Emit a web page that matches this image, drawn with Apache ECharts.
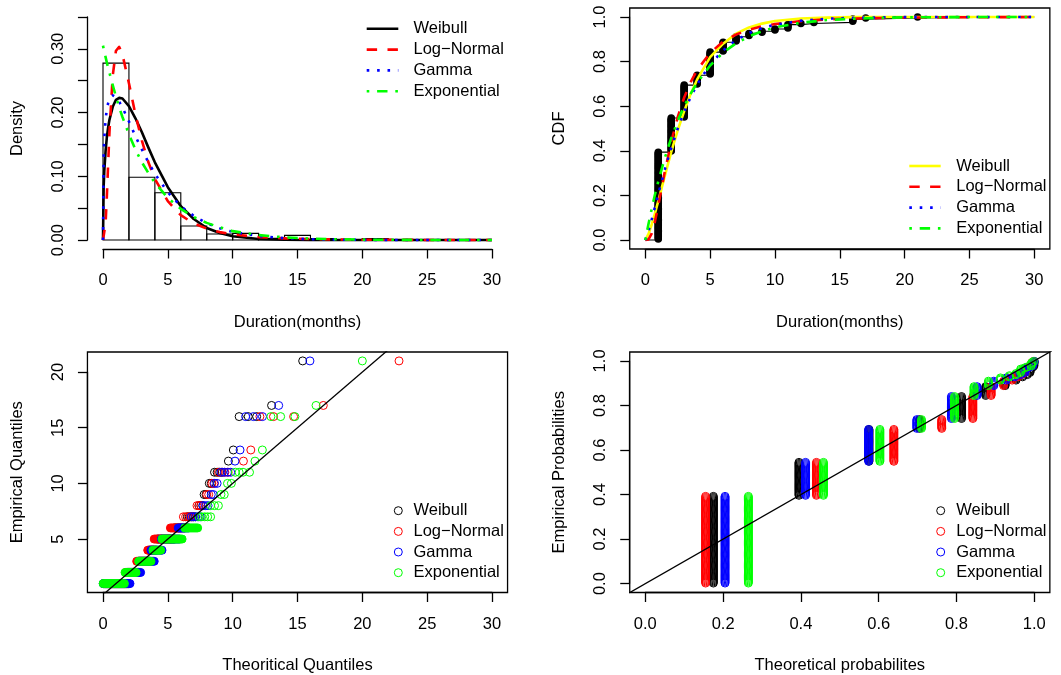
<!DOCTYPE html>
<html>
<head>
<meta charset="utf-8">
<script src="https://cdn.jsdelivr.net/npm/echarts@6/dist/echarts.min.js"></script>
<style>
html,body{margin:0;padding:0;background:#ffffff;}
#chart{width:1061px;height:675px;}
</style>
</head>
<body>
<div id="chart"></div>
<script>
// ---------------- DATA ----------------
// Panel 1: histogram of durations (density scale)
const histBreaks  = [0, 2, 4, 6, 8, 10, 12, 14, 16, 18, 20, 22];
const histDensity = [0.2775, 0.0985, 0.0743, 0.0220, 0.0095, 0.0105, 0.0026, 0.0073, 0.0025, 0, 0.0025];

// Panel 1: fitted density curves
const densX         = [0, 0.05, 0.1, 0.2, 0.3, 0.4, 0.5, 0.75, 1, 1.25, 1.5, 2, 2.5, 3, 3.5, 4, 5, 6, 7, 8, 9, 10, 12, 14, 16, 18, 20, 25, 30];
const densWeibull   = [0, 0.084, 0.109, 0.140, 0.162, 0.177, 0.189, 0.209, 0.220, 0.223, 0.222, 0.210, 0.191, 0.169, 0.145, 0.122, 0.083, 0.053, 0.033, 0.019, 0.011, 0.006, 0.0017, 0.0004, 0.0001, 0, 0, 0, 0];
const densLogNormal = [0, 0.0001, 0.0026, 0.026, 0.070, 0.121, 0.170, 0.258, 0.297, 0.303, 0.291, 0.246, 0.197, 0.156, 0.122, 0.096, 0.061, 0.039, 0.026, 0.018, 0.0125, 0.0089, 0.0047, 0.0027, 0.0016, 0.0010, 0.0006, 0.0002, 0.0001];
const densGamma     = [0, 0.133, 0.160, 0.189, 0.206, 0.215, 0.222, 0.227, 0.224, 0.217, 0.208, 0.186, 0.163, 0.142, 0.122, 0.104, 0.075, 0.053, 0.038, 0.0265, 0.0185, 0.0129, 0.0062, 0.0030, 0.0014, 0.0007, 0.0003, 0.00005, 0];
const densExp       = [0.305, 0.300, 0.296, 0.287, 0.278, 0.270, 0.262, 0.243, 0.225, 0.208, 0.193, 0.166, 0.142, 0.122, 0.105, 0.090, 0.066, 0.049, 0.036, 0.027, 0.020, 0.014, 0.0078, 0.0043, 0.0023, 0.0013, 0.0007, 0.00015, 0.00003];

// Panel 2: fitted CDF curves
const cdfX         = [0, 0.25, 0.5, 0.75, 1, 1.5, 2, 2.5, 3, 3.5, 4, 5, 6, 7, 8, 9, 10, 12, 14, 16, 18, 20, 25, 30];
const cdfWeibull   = [0, 0.028, 0.071, 0.121, 0.175, 0.286, 0.395, 0.492, 0.578, 0.655, 0.720, 0.820, 0.880, 0.925, 0.953, 0.970, 0.982, 0.993, 0.997, 0.999, 0.9996, 1, 1, 1];
const cdfLogNormal = [0, 0.003, 0.030, 0.085, 0.155, 0.305, 0.440, 0.551, 0.639, 0.708, 0.762, 0.839, 0.889, 0.921, 0.943, 0.958, 0.968, 0.981, 0.989, 0.993, 0.995, 0.997, 0.9986, 0.9994];
const cdfGamma     = [0, 0.040, 0.093, 0.149, 0.206, 0.314, 0.412, 0.500, 0.576, 0.641, 0.698, 0.787, 0.850, 0.896, 0.928, 0.950, 0.965, 0.983, 0.992, 0.996, 0.998, 0.9992, 0.9999, 1];
const cdfExp       = [0, 0.073, 0.141, 0.205, 0.263, 0.367, 0.457, 0.534, 0.600, 0.656, 0.705, 0.782, 0.840, 0.882, 0.913, 0.936, 0.953, 0.974, 0.986, 0.992, 0.996, 0.998, 0.9995, 0.9999];

// Observed durations (months) and how many observations have each value
const durValues = [1, 2, 3, 4, 5, 6, 7, 8, 9, 10, 11, 12, 13, 16, 17, 21];
const durCounts = [80, 31, 30, 9, 21, 9, 5, 3, 2, 2, 4, 1, 1, 3, 1, 1];

// Panel 4: theoretical probability at each observed value
const ppWeibull   = [0.175, 0.395, 0.575, 0.705, 0.813, 0.875, 0.925, 0.953, 0.970, 0.982, 0.989, 0.993, 0.996, 0.999, 0.9995, 1.0];
const ppLogNormal = [0.155, 0.440, 0.639, 0.762, 0.842, 0.889, 0.921, 0.943, 0.958, 0.968, 0.976, 0.981, 0.986, 0.993, 0.994, 0.998];
const ppGamma     = [0.205, 0.412, 0.574, 0.698, 0.787, 0.853, 0.896, 0.928, 0.950, 0.965, 0.976, 0.983, 0.988, 0.996, 0.9975, 0.9997];
const ppExp       = [0.265, 0.458, 0.603, 0.710, 0.795, 0.845, 0.882, 0.913, 0.936, 0.953, 0.965, 0.974, 0.981, 0.992, 0.994, 0.998];

// Panel 3: dense tied runs (empirical level, theoretical quantile from, to)
const qqBandLevels    = [1, 2, 3, 4, 5, 6];
const qqBandWeibull   = [[0.05, 1.98], [1.85, 2.75], [2.7, 3.6], [3.55, 4.1], [4.2, 5.5], [5.5, 6.3]];
const qqBandLogNormal = [[0.2, 1.85], [1.75, 2.4], [2.6, 3.3], [3.45, 3.9], [3.95, 5.2], [5.2, 6.0]];
const qqBandGamma     = [[0.02, 2.08], [1.9, 2.9], [2.8, 3.95], [3.7, 4.55], [4.5, 5.9], [5.8, 6.6]];
const qqBandExp       = [[0.01, 1.65], [1.7, 2.55], [2.75, 3.7], [3.85, 4.45], [4.55, 6.1], [6.3, 7.3]];

// Panel 3: individual points (empirical level -> theoretical quantiles)
const qqLevels    = [7, 8, 9, 10, 11, 12, 13, 16, 17, 21];
const qqWeibull   = [[6.5, 6.65, 6.8, 6.95, 7.1], [7.4, 7.55, 7.7], [7.8, 7.95], [8.2, 8.35], [8.6, 8.8, 9.0, 9.2], [9.67], [10.05], [10.5, 11.2, 11.85], [13.0], [15.4]];
const qqLogNormal = [[6.2, 6.37, 6.55, 6.72, 6.9], [7.25, 7.4, 7.55], [8.0, 8.15], [8.4, 8.55], [8.9, 9.15, 9.4, 9.65], [10.83], [11.4], [12.1, 13.15, 14.7], [16.99], [22.83]];
const qqGamma     = [[6.8, 6.97, 7.15, 7.32, 7.5], [7.7, 7.9, 8.1], [8.35, 8.5], [8.6, 8.8], [9.1, 9.35, 9.6, 9.85], [10.18], [10.57], [11.0, 11.6, 12.3], [13.55], [15.96]];
const qqExp       = [[7.4, 7.62, 7.85, 8.07, 8.3], [8.3, 8.6, 8.9], [9.1, 9.35], [9.6, 9.9], [10.2, 10.5, 10.8, 11.3], [11.72], [12.29], [12.95, 13.7, 14.8], [16.43], [20.0]];

// Reference line y = x (ends far outside, clipped by the plot region)
const refLineEnds = [-5, 40];

const legendNames = ['Weibull', 'Log\u2212Normal', 'Gamma', 'Exponential'];

// ---------------- STYLE ----------------
const FONT = '"Liberation Sans", Arial, Helvetica, sans-serif';
const FS = 16.5;
const COL = { black: '#000000', red: '#ff0000', blue: '#0000ff', green: '#00ff00', yellow: '#ffff00' };
const LW = 2.6;
const DASH = { solid: 'solid', dashed: [10.4, 10.4], dotted: [2.6, 7.8], dotdash: [2.6, 7.8, 10.4, 7.8] };
const AXIS_LW = 1.3;

// ---------------- LAYOUT ----------------
const grids = [
  { left: 87.44, top: 8, width: 420.12, height: 241 },                 // 0 panel1 plot region
  { left: 103, top: 16.93, width: 389, height: 223.15 },                // 1 panel1 axes
  { left: 629.74, top: 8, width: 420.12, height: 241, box: true },      // 2 panel2 plot region
  { left: 645.3, top: 16.93, width: 389, height: 223.15 },              // 3 panel2 axes
  { left: 87.44, top: 352, width: 420.12, height: 240.5, box: true },   // 4 panel3 plot region
  { left: 103, top: 372.04, width: 389, height: 167.02 },               // 5 panel3 axes
  { left: 629.74, top: 352, width: 420.12, height: 240.5, box: true },  // 6 panel4 plot region
  { left: 645.3, top: 360.91, width: 389, height: 222.68 }              // 7 panel4 axes
].map(g => ({
  left: g.left, top: g.top, width: g.width, height: g.height,
  containLabel: false, outerBoundsMode: 'none',
  show: !!g.box, borderColor: '#000', borderWidth: g.box ? AXIS_LW : 0, backgroundColor: 'transparent'
}));

const txt = { color: '#000', fontFamily: FONT, fontSize: FS };

function plotAxis(dim, gi, min, max, name, gap) {
  return {
    type: 'value', gridIndex: gi, min, max, show: true,
    axisLine: { show: false }, axisTick: { show: false }, axisLabel: { show: false }, splitLine: { show: false },
    name, nameLocation: 'middle', nameGap: gap, nameMoveOverlap: false,
    nameTextStyle: Object.assign({ verticalAlign: 'middle', align: 'center' }, txt)
  };
}
function tickAxis(dim, gi, min, max, interval, offset, fmt) {
  const isY = dim === 'y';
  return {
    type: 'value', gridIndex: gi, min, max, interval, offset,
    position: isY ? 'left' : 'bottom',
    axisLine: { show: true, onZero: false, lineStyle: { color: '#000', width: AXIS_LW } },
    axisTick: { show: true, inside: false, length: 9.5, lineStyle: { color: '#000', width: AXIS_LW } },
    splitLine: { show: false },
    axisLabel: Object.assign({
      show: true, hideOverlap: false, formatter: fmt,
      margin: isY ? 28.8 : 31.5,
      rotate: isY ? 90 : 0,
      align: 'center', verticalAlign: 'middle'
    }, txt)
  };
}
const f0 = v => String(Math.round(v));
const f1 = v => v.toFixed(1);
const fDens = v => (Math.round(v * 100) % 10 === 0 ? v.toFixed(2) : '');

const xAxes = [
  plotAxis('x', 0, -1.2, 31.2, 'Duration(months)', 73),
  tickAxis('x', 1, 0, 30, 5, 8.92, f0),
  plotAxis('x', 2, -1.2, 31.2, 'Duration(months)', 73),
  tickAxis('x', 3, 0, 30, 5, 8.92, f0),
  plotAxis('x', 4, -1.2, 31.2, 'Theoritical Quantiles', 72.5),
  tickAxis('x', 5, 0, 30, 5, 53.46, f0),
  plotAxis('x', 6, -0.04, 1.04, 'Theoretical probabilites', 72.5),
  tickAxis('x', 7, 0, 1, 0.2, 8.91, f1)
];
const yAxes = [
  plotAxis('y', 0, -0.014, 0.364, 'Density', 70),
  tickAxis('y', 1, 0, 0.35, 0.05, 15.56, fDens),
  plotAxis('y', 2, -0.04, 1.04, 'CDF', 70),
  tickAxis('y', 3, 0, 1, 0.2, 15.56, f1),
  plotAxis('y', 4, 0.2, 21.8, 'Empirical Quantiles', 70),
  tickAxis('y', 5, 5, 20, 5, 15.56, f0),
  plotAxis('y', 6, -0.04, 1.04, 'Empirical Probabilities', 70),
  tickAxis('y', 7, 0, 1, 0.2, 15.56, f1)
];

// ---------------- SERIES ----------------
const zip = (xs, ys) => xs.map((x, i) => [x, ys[i]]);
const base = { silent: true, animation: false };

function curve(name, xs, ys, color, dash, ai) {
  return Object.assign({
    type: 'line', name, xAxisIndex: ai, yAxisIndex: ai, data: zip(xs, ys),
    symbol: 'none', showSymbol: false, clip: true,
    lineStyle: { color, width: LW, type: dash, cap: 'butt', join: 'round' }
  }, base);
}
function hollow(name, data, color, ai) {
  return Object.assign({
    type: 'scatter', name, xAxisIndex: ai, yAxisIndex: ai, data,
    symbol: 'circle', symbolSize: 8,
    itemStyle: { color: 'rgba(0,0,0,0)', borderColor: color, borderWidth: 1, opacity: 1 }
  }, base);
}

const nObs = durCounts.reduce((a, b) => a + b, 0);

// ECDF points and steps
const ecdfPoints = [];
const ecdfSteps = [[0, 0]];
(function () {
  let c = 0;
  durValues.forEach((v, k) => {
    for (let j = 0; j < durCounts[k]; j++) { c++; ecdfPoints.push([v, c / nObs]); }
    ecdfSteps.push([v, c / nObs]);
  });
  ecdfSteps.push([30, c / nObs]);
})();

function ppData(px) {
  const out = []; let c = 0;
  durValues.forEach((v, k) => {
    for (let j = 0; j < durCounts[k]; j++) { c++; out.push([px[k], (c - 0.5) / nObs]); }
  });
  return out;
}
function qqPoints(xsByLevel) {
  const out = [];
  qqLevels.forEach((lv, j) => xsByLevel[j].forEach(x => out.push([x, lv])));
  return out;
}
function qqBands(name, bands, color) {
  return Object.assign({
    type: 'custom', name, xAxisIndex: 4, yAxisIndex: 4,
    data: qqBandLevels.map((lv, j) => [lv, bands[j][0], bands[j][1]]),
    encode: { x: [1, 2], y: 0 },
    renderItem: function (params, api) {
      const y = api.value(0), x0 = api.value(1), x1 = api.value(2);
      const a = api.coord([x0, y]), b = api.coord([x1, y]);
      const R = 4;
      return {
        type: 'rect',
        shape: { x: a[0] - R, y: a[1] - R, width: (b[0] - a[0]) + 2 * R, height: 2 * R, r: R },
        style: { fill: color, stroke: color, lineWidth: 1 }
      };
    }
  }, base);
}
function refLine(ai) {
  return Object.assign({
    type: 'line', xAxisIndex: ai, yAxisIndex: ai, data: refLineEnds.map(v => [v, v]),
    symbol: 'none', clip: true, lineStyle: { color: '#000', width: 1.3 }, z: 5
  }, base);
}

const series = [
  // Panel 1
  Object.assign({
    type: 'custom', name: 'hist', xAxisIndex: 0, yAxisIndex: 0,
    data: histDensity.map((d, i) => [histBreaks[i], histBreaks[i + 1], d]),
    encode: { x: [0, 1], y: 2 },
    renderItem: function (params, api) {
      const p0 = api.coord([api.value(0), 0]);
      const p1 = api.coord([api.value(1), api.value(2)]);
      return {
        type: 'rect',
        shape: { x: p0[0], y: p1[1], width: p1[0] - p0[0], height: p0[1] - p1[1] },
        style: { fill: 'none', stroke: '#000', lineWidth: 1.1 }
      };
    }
  }, base),
  curve('Weibull', densX, densWeibull, COL.black, DASH.solid, 0),
  curve('Log-Normal', densX, densLogNormal, COL.red, DASH.dashed, 0),
  curve('Gamma', densX, densGamma, COL.blue, DASH.dotted, 0),
  curve('Exponential', densX, densExp, COL.green, DASH.dotdash, 0),

  // Panel 2
  Object.assign({
    type: 'line', name: 'ecdf', xAxisIndex: 2, yAxisIndex: 2, data: ecdfSteps, step: 'end',
    symbol: 'none', lineStyle: { color: '#000', width: 1.1 }
  }, base),
  Object.assign({
    type: 'scatter', name: 'ecdf points', xAxisIndex: 2, yAxisIndex: 2, data: ecdfPoints,
    symbol: 'circle', symbolSize: 7.5, itemStyle: { color: '#000', opacity: 1 }
  }, base),
  curve('Weibull', cdfX, cdfWeibull, COL.yellow, DASH.solid, 2),
  curve('Log-Normal', cdfX, cdfLogNormal, COL.red, DASH.dashed, 2),
  curve('Gamma', cdfX, cdfGamma, COL.blue, DASH.dotted, 2),
  curve('Exponential', cdfX, cdfExp, COL.green, DASH.dotdash, 2),

  // Panel 3
  qqBands('Weibull', qqBandWeibull, COL.black),
  hollow('Weibull', qqPoints(qqWeibull), COL.black, 4),
  qqBands('Log-Normal', qqBandLogNormal, COL.red),
  hollow('Log-Normal', qqPoints(qqLogNormal), COL.red, 4),
  qqBands('Gamma', qqBandGamma, COL.blue),
  hollow('Gamma', qqPoints(qqGamma), COL.blue, 4),
  qqBands('Exponential', qqBandExp, COL.green),
  hollow('Exponential', qqPoints(qqExp), COL.green, 4),
  refLine(4),

  // Panel 4
  hollow('Weibull', ppData(ppWeibull), COL.black, 6),
  hollow('Log-Normal', ppData(ppLogNormal), COL.red, 6),
  hollow('Gamma', ppData(ppGamma), COL.blue, 6),
  hollow('Exponential', ppData(ppExp), COL.green, 6),
  refLine(6)
];

// ---------------- LEGENDS (drawn as graphic, no frame) ----------------
const graphics = [];
const font = FS + 'px ' + FONT;
function lineLegend(x1, x2, tx, rows, colors) {
  const dashes = [null, DASH.dashed, DASH.dotted, DASH.dotdash];
  legendNames.forEach((nm, i) => {
    graphics.push({
      type: 'line', silent: true,
      shape: { x1: x1, y1: rows[i], x2: x2, y2: rows[i] },
      style: { stroke: colors[i], lineWidth: LW, lineDash: dashes[i], lineCap: 'butt' }
    });
    graphics.push({
      type: 'text', silent: true, x: tx, y: rows[i],
      style: { text: nm, font: font, fill: '#000', align: 'left', verticalAlign: 'middle' }
    });
  });
}
function pointLegend(cx, tx, rows, colors) {
  legendNames.forEach((nm, i) => {
    graphics.push({
      type: 'circle', silent: true,
      shape: { cx: cx, cy: rows[i], r: 4 },
      style: { fill: 'none', stroke: colors[i], lineWidth: 1 }
    });
    graphics.push({
      type: 'text', silent: true, x: tx, y: rows[i],
      style: { text: nm, font: font, fill: '#000', align: 'left', verticalAlign: 'middle' }
    });
  });
}
lineLegend(366.7, 398.3, 413.5, [28.8, 49.6, 70.4, 91.2], [COL.black, COL.red, COL.blue, COL.green]);
lineLegend(909.3, 940.7, 956.2, [166, 186.8, 207.6, 228.4], [COL.yellow, COL.red, COL.blue, COL.green]);
pointLegend(398.3, 413.5, [510.7, 531.4, 552.0, 572.7], [COL.black, COL.red, COL.blue, COL.green]);
pointLegend(940.7, 956.2, [510.7, 531.4, 552.0, 572.7], [COL.black, COL.red, COL.blue, COL.green]);

const chart = echarts.init(document.getElementById('chart'), null, { renderer: 'canvas' });
chart.setOption({
  animation: false,
  backgroundColor: '#ffffff',
  textStyle: { fontFamily: FONT },
  grid: grids,
  xAxis: xAxes,
  yAxis: yAxes,
  series: series,
  graphic: { elements: graphics }
});
</script>
</body>
</html>
